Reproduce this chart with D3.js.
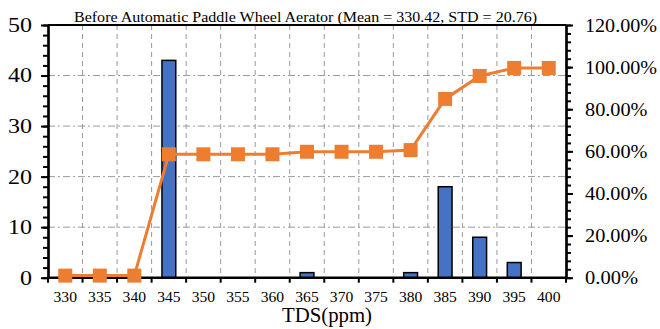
<!DOCTYPE html>
<html>
<head>
<meta charset="utf-8">
<script src="https://cdn.jsdelivr.net/npm/d3@7"></script>
<style>
  html, body { margin: 0; padding: 0; background: #fff; }
  svg { display: block; }
  svg text { font-family: "Times New Roman", "Liberation Serif", "DejaVu Serif", serif; fill: #000; }
</style>
</head>
<body>
<svg id="chart" width="660" height="329"></svg>
<script>
// TDS bins (ppm)
const categories = ["330","335","340","345","350","355","360","365","370","375","380","385","390","395","400"];
// frequency per bin
const frequency = [0, 0, 0, 43, 0, 0, 0, 1, 0, 0, 1, 18, 8, 3, 0];
// cumulative percentage per bin
const cumulativePct = [1, 1, 1, 58.6, 58.6, 58.6, 58.6, 59.8, 59.8, 59.8, 60.6, 84.9, 95.8, 99.6, 99.6];
const leftTicks = [0, 10, 20, 30, 40, 50];
const rightTicks = [0, 20, 40, 60, 80, 100, 120];
const titleText = "Before Automatic Paddle Wheel Aerator (Mean = 330.42, STD = 20.76)";
const xTitle = "TDS(ppm)";

const serif = "'Times New Roman', 'Liberation Serif', 'DejaVu Serif', serif";
const svg = d3.select("#chart");
const plotL = 48, plotR = 566, plotT = 25, plotB = 277.7;

const x = d3.scaleBand().domain(categories).range([plotL, plotR]).padding(0);
const yL = d3.scaleLinear().domain([0, 50]).range([plotB, plotT]);
const yR = d3.scaleLinear().domain([0, 120]).range([plotB, plotT]);

// wide serif look: stretch each label to a width set by its digit count
function widen(sel, perDigit, base) {
  sel.each(function () {
    const s = this.textContent;
    const digits = s.replace(/[^0-9]/g, "").length;
    this.setAttribute("textLength", base + perDigit * digits);
    this.setAttribute("lengthAdjust", "spacingAndGlyphs");
  });
}

// grid: dash-dot horizontals, dashed verticals at bin boundaries
const grid = svg.append("g");
grid.selectAll("line.h").data(leftTicks.filter(d => d > 0 && d < 50)).join("line")
  .attr("class", "h")
  .attr("x1", plotL).attr("x2", plotR)
  .attr("y1", d => yL(d)).attr("y2", d => yL(d))
  .attr("stroke", "#999").attr("stroke-width", 1)
  .attr("stroke-dasharray", "7,3,2,3");
grid.selectAll("line.v").data(categories.slice(1)).join("line")
  .attr("class", "v")
  .attr("x1", d => x(d)).attr("x2", d => x(d))
  .attr("y1", plotT).attr("y2", plotB)
  .attr("stroke", "#999").attr("stroke-width", 1)
  .attr("stroke-dasharray", "5,4");

// frequency bars
const barW = x.bandwidth() * 0.4;
svg.append("g").selectAll("rect").data(categories.map((c, i) => ({c, v: frequency[i]})).filter(d => d.v > 0))
  .join("rect")
  .attr("x", d => x(d.c) + (x.bandwidth() - barW) / 2)
  .attr("y", d => yL(d.v))
  .attr("width", barW)
  .attr("height", d => plotB - yL(d.v))
  .attr("fill", "#4472C4")
  .attr("stroke", "#000").attr("stroke-width", 1.5);

// frame
svg.append("line").attr("x1", plotL).attr("x2", plotR).attr("y1", plotT).attr("y2", plotT)
  .attr("stroke", "#000").attr("stroke-width", 2);

// axes: major + minor ticks
function styleAxis(g) {
  g.attr("font-family", serif);
  g.select(".domain").attr("stroke", "#000").attr("stroke-width", 2.2);
  g.selectAll(".tick line").attr("stroke", "#000").attr("stroke-width", 2);
}
const leftMinor = svg.append("g").attr("transform", `translate(${plotL},0)`)
  .call(d3.axisLeft(yL).tickValues(d3.range(0, 51, 2)).tickSize(5).tickFormat("").tickSizeOuter(0));
styleAxis(leftMinor);
const leftAxis = svg.append("g").attr("transform", `translate(${plotL},0)`)
  .call(d3.axisLeft(yL).tickValues(leftTicks).tickSize(7).tickPadding(9).tickSizeOuter(0));
styleAxis(leftAxis);
leftAxis.selectAll("text").attr("font-size", 20);
widen(leftAxis.selectAll("text"), 12, 0);

const rightMinor = svg.append("g").attr("transform", `translate(${plotR},0)`)
  .call(d3.axisRight(yR).tickValues(d3.range(0, 121, 4)).tickSize(5).tickFormat("").tickSizeOuter(0));
styleAxis(rightMinor);
const rightAxis = svg.append("g").attr("transform", `translate(${plotR},0)`)
  .call(d3.axisRight(yR).tickValues(rightTicks).tickSize(7).tickPadding(12)
    .tickFormat(d => d.toFixed(2) + "%").tickSizeOuter(0));
styleAxis(rightAxis);
rightAxis.selectAll("text").attr("font-size", 19);
widen(rightAxis.selectAll("text"), 9.5, 24.5);

// bottom axis: ticks at bin boundaries, labels at bin centres
const bottomAxis = svg.append("g").attr("transform", `translate(0,${plotB})`).attr("font-family", serif);
bottomAxis.append("line").attr("x1", plotL - 1).attr("x2", plotR + 1)
  .attr("stroke", "#000").attr("stroke-width", 2.5);
bottomAxis.selectAll("line.t").data(categories.concat(["end"])).join("line")
  .attr("class", "t")
  .attr("x1", d => d === "end" ? plotR : x(d)).attr("x2", d => d === "end" ? plotR : x(d))
  .attr("y1", 0).attr("y2", 5).attr("stroke", "#000").attr("stroke-width", 2);
const xLabels = bottomAxis.selectAll("text").data(categories).join("text")
  .attr("x", d => x(d) + x.bandwidth() / 2)
  .attr("y", 24)
  .attr("text-anchor", "middle")
  .attr("font-size", 15.5)
  .text(d => d);
widen(xLabels, 7.8, 0);

// cumulative line + square markers
const pts = categories.map((c, i) => ({c, v: cumulativePct[i]}));
svg.append("path").datum(pts)
  .attr("d", d3.line().x(d => x(d.c) + x.bandwidth() / 2).y(d => yR(d.v)))
  .attr("fill", "none").attr("stroke", "#ED7D31").attr("stroke-width", 3);
const ms = 14;
svg.append("g").selectAll("rect").data(pts).join("rect")
  .attr("x", d => x(d.c) + x.bandwidth() / 2 - ms / 2)
  .attr("y", d => yR(d.v) - ms / 2)
  .attr("width", ms).attr("height", ms)
  .attr("fill", "#ED7D31");

// titles
svg.append("text").attr("x", 305.5).attr("y", 21.5).attr("text-anchor", "middle")
  .attr("font-family", serif).attr("font-size", 15)
  .attr("textLength", 463).attr("lengthAdjust", "spacingAndGlyphs")
  .text(titleText);
svg.append("text").attr("x", 327).attr("y", 322).attr("text-anchor", "middle")
  .attr("font-family", serif).attr("font-size", 21)
  .attr("textLength", 90).attr("lengthAdjust", "spacingAndGlyphs")
  .text(xTitle);
</script>
</body>
</html>
